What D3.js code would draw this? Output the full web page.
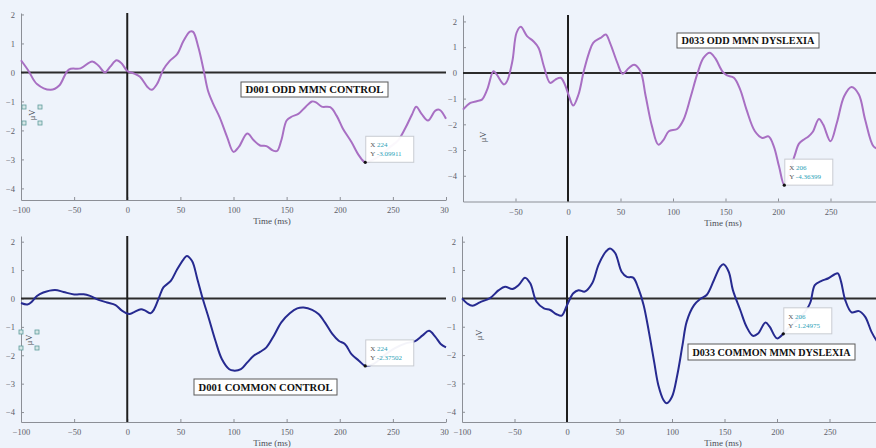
<!DOCTYPE html>
<html>
<head>
<meta charset="utf-8">
<script src="https://cdn.jsdelivr.net/npm/d3@7"></script>
<style>
  html, body { margin: 0; padding: 0; background: #eef3fb; }
  svg { display: block; }
</style>
</head>
<body>
<svg id="fig" width="876" height="448"></svg>
<script>
// ERP waveforms, [time (ms), amplitude (µV)]
const oddControl = [
  [-100,0.42],[-93,0.06],[-85,-0.4],[-72,-0.6],[-64,-0.45],[-55,0.1],[-44,0.14],[-33,0.38],
  [-27,0.23],[-21,0.0],[-16,0.2],[-10,0.42],[-5,0.3],[0,0.05],[6,-0.03],[12,-0.15],[19,-0.5],
  [23,-0.6],[28,-0.4],[34,0.1],[40,0.4],[47,0.63],[53,1.09],[59,1.41],[62,1.4],[67,0.86],
  [72,0.06],[76,-0.63],[81,-1.09],[87,-1.55],[94,-2.23],[100,-2.74],[105,-2.57],[113,-2.11],
  [119,-2.34],[125,-2.52],[131,-2.54],[137,-2.69],[141,-2.71],[145,-2.34],[150,-1.66],
  [155,-1.52],[161,-1.43],[168,-1.18],[174,-1.0],[178,-1.04],[183,-1.18],[191,-1.2],
  [197,-1.49],[203,-1.94],[211,-2.4],[218,-2.86],[224,-3.09911],[232,-3.0],[240,-2.8],
  [248,-2.55],[255,-2.34],[262,-1.9],[268,-1.45],[272,-1.18],[277,-1.43],[283,-1.66],
  [290,-1.32],[294,-1.29],[300,-1.6]
];
const oddDyslexia = [
  [-100,-1.43],[-93,-1.17],[-87,-1.1],[-82,-1.04],[-77,-0.65],[-71,0.06],[-68,-0.06],
  [-61,-0.45],[-58,-0.32],[-53,0.45],[-49,1.56],[-45,1.79],[-39,1.43],[-33,1.23],[-28,0.97],
  [-23,0.26],[-17,-0.39],[-12,-0.26],[-7,-0.19],[-3,-0.45],[1,-0.91],[5,-1.27],[10,-0.84],
  [15,0.06],[20,0.78],[24,1.17],[31,1.36],[36,1.49],[40,1.17],[47,0.39],[52,-0.03],[58,0.19],
  [63,0.32],[69,0.06],[74,-0.91],[80,-2.08],[86,-2.79],[91,-2.6],[96,-2.27],[104,-2.18],
  [110,-1.82],[117,-0.91],[123,-0.06],[129,0.58],[135,0.78],[140,0.58],[147,0.06],[151,-0.09],
  [158,-0.19],[164,-0.65],[170,-1.43],[178,-2.27],[185,-2.53],[191,-2.47],[196,-2.86],
  [201,-3.64],[206,-4.36399],[212,-3.7],[216,-3.2],[220,-2.75],[225,-2.58],[229,-2.47],
  [233,-2.3],[239,-1.79],[243,-2.01],[250,-2.66],[256,-1.95],[263,-0.91],[270,-0.55],
  [277,-0.84],[283,-1.82],[291,-2.86],[296,-2.95]
];
const commonControl = [
  [-100,-0.16],[-94,-0.21],[-90,-0.12],[-85,0.09],[-79,0.21],[-68,0.3],[-60,0.23],[-50,0.14],
  [-41,0.15],[-35,0.09],[-27,-0.05],[-19,-0.14],[-11,-0.23],[-5,-0.43],[2,-0.55],[6,-0.49],
  [13,-0.38],[17,-0.43],[22,-0.52],[25,-0.4],[30,0.04],[34,0.39],[41,0.62],[47,1.03],
  [53,1.38],[56,1.5],[61,1.32],[66,0.68],[71,0.0],[77,-0.73],[83,-1.49],[89,-2.13],
  [96,-2.49],[100,-2.54],[107,-2.49],[113,-2.25],[119,-2.02],[125,-1.88],[131,-1.72],
  [138,-1.31],[145,-0.84],[153,-0.52],[160,-0.35],[166,-0.32],[174,-0.4],[180,-0.55],
  [186,-0.84],[193,-1.25],[199,-1.49],[205,-1.61],[211,-1.96],[218,-2.19],[224,-2.37502],
  [232,-2.3],[242,-2.0],[252,-1.75],[262,-1.58],[271,-1.5],[278,-1.3],[284,-1.14],
  [290,-1.35],[295,-1.6],[300,-1.72]
];
const commonDyslexia = [
  [-100,0],[-95,-0.18],[-90,-0.26],[-83,-0.14],[-73,0.02],[-65,0.29],[-59,0.41],[-52,0.33],
  [-46,0.47],[-40,0.73],[-35,0.53],[-29,-0.12],[-22,-0.35],[-16,-0.41],[-10,-0.56],[-5,-0.61],
  [0,-0.24],[6,0.18],[11,0.29],[17,0.24],[24,0.53],[30,1.18],[37,1.65],[41,1.76],[46,1.59],
  [52,0.94],[57,0.76],[63,0.73],[68,0.35],[73,-0.24],[78,-1.18],[83,-2.24],[87,-3.06],
  [92,-3.59],[95,-3.7],[100,-3.47],[105,-2.71],[110,-1.65],[114,-0.82],[121,-0.24],
  [127,-0.02],[133,0.12],[140,0.65],[146,1.12],[149,1.2],[154,0.94],[158,0.29],[165,-0.41],
  [171,-1.0],[177,-1.32],[182,-1.24],[189,-0.85],[193,-1.0],[200,-1.41],[206,-1.24975],
  [212,-1.0],[218,-0.8],[224,-0.6],[229,-0.35],[232,-0.12],[236,0.47],[242,0.61],[249,0.71],
  [255,0.85],[258,0.88],[261,0.59],[265,-0.06],[271,-0.49],[278,-0.45],[284,-0.65],
  [290,-1.18],[296,-1.55],[300,-1.7]
];

// Data tips
const tipOddControl     = { x: 224, y: -3.09911 };
const tipOddDyslexia    = { x: 206, y: -4.36399 };
const tipCommonControl  = { x: 224, y: -2.37502 };
const tipCommonDyslexia = { x: 206, y: -1.24975 };

// Tick labels
const xTicksFull  = [-100, -50, 0, 50, 100, 150, 200, 250, 300];
const xTicksInner = [-50, 0, 50, 100, 150, 200, 250];
const yTicks      = [2, 1, 0, -1, -2, -3, -4];

const PURPLE = "#a86fc3";
const NAVY = "#262a90";
const SERIF = "'Liberation Serif', 'DejaVu Serif', serif";

const panels = [
  { id: "tl", series: oddControl, tip: tipOddControl, color: PURPLE,
    title: "D001 ODD MMN CONTROL", titleBox: [241, 82, 147, 15],
    xRange: [21, 446], yRange: [200, 13], yDomain: [-4.4, 2.05],
    xTicks: xTicksFull, xlabelX: 272, clipW: 449, handles: true, ylabelPos: [32, 115] },
  { id: "tr", series: oddDyslexia, tip: tipOddDyslexia, color: PURPLE,
    title: "D033 ODD MMN DYSLEXIA", titleBox: [677, 33, 142, 15],
    xRange: [463, 883], yRange: [201.5, 15], yDomain: [-5, 2.25],
    xTicks: xTicksInner, xlabelX: 723, clipW: null, handles: false, ylabelPos: [483, 137] },
  { id: "bl", series: commonControl, tip: tipCommonControl, color: NAVY,
    title: "D001 COMMON CONTROL", titleBox: [194, 379, 143, 16],
    xRange: [21, 446], yRange: [422, 236], yDomain: [-4.35, 2.2],
    xTicks: xTicksFull, xlabelX: 272, clipW: 449, handles: true, ylabelPos: [29, 340] },
  { id: "br", series: commonDyslexia, tip: tipCommonDyslexia, color: NAVY,
    title: "D033 COMMON MMN DYSLEXIA", titleBox: [688, 344, 167, 16],
    xRange: [462, 882], yRange: [422, 236], yDomain: [-4.36, 2.2],
    xTicks: xTicksFull, xlabelX: 723, clipW: null, handles: false, ylabelPos: [479, 335] }
];

const svg = d3.select("#fig");
const defs = svg.append("defs");

panels.forEach(p => {
  const x = d3.scaleLinear().domain([-100, 300]).range(p.xRange);
  const y = d3.scaleLinear().domain(p.yDomain).range(p.yRange);

  const g = svg.append("g").attr("class", "panel-" + p.id);
  if (p.clipW) {
    defs.append("clipPath").attr("id", "clip-" + p.id)
      .append("rect").attr("x", 0).attr("y", 0).attr("width", p.clipW).attr("height", 448);
    g.attr("clip-path", `url(#clip-${p.id})`);
  }

  // Axes with inward ticks
  const yAxis = d3.axisLeft(y).tickValues(yTicks).tickSize(-3).tickSizeOuter(0).tickPadding(6)
    .tickFormat(d3.format("d"));
  const xAxis = d3.axisBottom(x).tickValues(p.xTicks).tickSize(-3).tickSizeOuter(0).tickPadding(7)
    .tickFormat(d3.format("d"));

  const ga = g.append("g").attr("transform", `translate(${p.xRange[0]},0)`).call(yAxis);
  const gb = g.append("g").attr("transform", `translate(0,${p.yRange[0]})`).call(xAxis);
  [ga, gb].forEach(a => {
    a.select(".domain").attr("stroke", "#8c8f96").attr("stroke-width", 1);
    a.selectAll(".tick line").attr("stroke", "#8c8f96");
    a.selectAll(".tick text").attr("fill", "#5d6068")
      .style("font-family", SERIF).style("font-size", "8.5px");
  });

  // Reference lines at 0 ms and 0 µV
  g.append("line")
    .attr("x1", p.xRange[0]).attr("x2", p.xRange[1])
    .attr("y1", y(0)).attr("y2", y(0))
    .attr("stroke", "#2b2b2b").attr("stroke-width", 2);
  g.append("line")
    .attr("x1", x(0)).attr("x2", x(0))
    .attr("y1", p.yRange[1]).attr("y2", p.yRange[0])
    .attr("stroke", "#1e1e1e").attr("stroke-width", 2);

  // Waveform
  const line = d3.line().x(d => x(d[0])).y(d => y(d[1])).curve(d3.curveCatmullRom.alpha(0.5));
  g.append("path").datum(p.series)
    .attr("d", line)
    .attr("fill", "none")
    .attr("stroke", p.color)
    .attr("stroke-width", 2)
    .attr("stroke-linejoin", "round");

  // Axis labels
  g.append("text")
    .attr("x", p.xlabelX).attr("y", p.yRange[0] + 24)
    .attr("text-anchor", "middle")
    .attr("fill", "#4a4d55")
    .style("font-family", SERIF).style("font-size", "9px")
    .text("Time (ms)");

  const [lx, ly] = p.ylabelPos;
  g.append("text")
    .attr("transform", `translate(${lx},${ly}) rotate(-90)`)
    .attr("text-anchor", "middle").attr("dy", "0.35em")
    .attr("fill", "#4a4d55")
    .style("font-family", SERIF).style("font-size", "8.5px")
    .text("\u03BCV");
  if (p.handles) {
    [[-8, -8], [8, -8], [-8, 8], [8, 8]].forEach(([dx, dy]) => {
      g.append("rect")
        .attr("x", lx + dx - 2).attr("y", ly + dy - 2)
        .attr("width", 4).attr("height", 4)
        .attr("fill", "#d6e6e6").attr("stroke", "#5e9c9c").attr("stroke-width", 0.8);
    });
  }

  // Title annotation
  const [bx, by, bw, bh] = p.titleBox;
  g.append("rect")
    .attr("x", bx).attr("y", by).attr("width", bw).attr("height", bh)
    .attr("fill", "#ffffff").attr("stroke", "#5a5a5a").attr("stroke-width", 1);
  g.append("text")
    .attr("x", bx + bw / 2).attr("y", by + bh / 2).attr("dy", "0.36em")
    .attr("text-anchor", "middle")
    .attr("textLength", bw - 9).attr("lengthAdjust", "spacingAndGlyphs")
    .attr("fill", "#111")
    .style("font-family", SERIF).style("font-size", "10px").style("font-weight", "bold")
    .text(p.title);

  // Data tip
  const tx = x(p.tip.x), ty = y(p.tip.y);
  const tw = 48, th = 26;
  g.append("rect")
    .attr("x", tx + 0.5).attr("y", ty - th).attr("width", tw).attr("height", th)
    .attr("fill", "#ffffff").attr("fill-opacity", 0.95)
    .attr("stroke", "#c9ccd2").attr("stroke-width", 1);
  const tipLines = [["X ", String(p.tip.x)], ["Y ", String(p.tip.y)]];
  tipLines.forEach(([k, v], i) => {
    const t = g.append("text")
      .attr("x", tx + 5).attr("y", ty - th + 11 + i * 9)
      .style("font-family", SERIF).style("font-size", "7px");
    t.append("tspan").attr("fill", "#555").text(k);
    t.append("tspan").attr("fill", "#2aa2b8").text(v);
  });
  g.append("circle")
    .attr("cx", tx).attr("cy", ty).attr("r", 1.6)
    .attr("fill", "#111");
});
</script>
</body>
</html>
